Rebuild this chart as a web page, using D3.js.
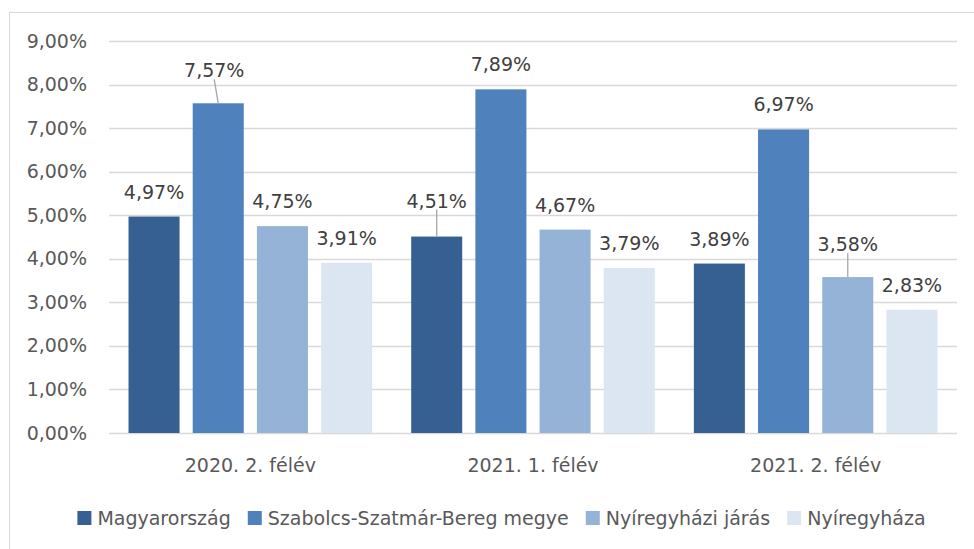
<!DOCTYPE html>
<html>
<head>
<meta charset="utf-8">
<script src="https://cdn.jsdelivr.net/npm/d3@7"></script>
<style>
  body { margin: 0; background: #fff; }
  svg { display: block; font-family: "DejaVu Sans", sans-serif; }
</style>
</head>
<body>
<script>
const width = 974
const height = 549

const categories = ['2020. 2. félév', '2021. 1. félév', '2021. 2. félév']
const seriesNames = ['Magyarország', 'Szabolcs-Szatmár-Bereg megye', 'Nyíregyházi járás', 'Nyíregyháza']
const magyarorszag = [4.97, 4.51, 3.89]
const szabolcs = [7.57, 7.89, 6.97]
const jaras = [4.75, 4.67, 3.58]
const nyiregyhaza = [3.91, 3.79, 2.83]
const yTicks = [0, 1, 2, 3, 4, 5, 6, 7, 8, 9]
const colors = ['#376092', '#4f81bd', '#95b3d7', '#dce6f2']

// labels that were dragged off their default spot (dx, dy in px)
const labelNudge = [
  [[0, 0], [-4, -8], [0, 0], [0, 0]],
  [[0, -11], [0, 0], [0, 0], [0, 0]],
  [[0, 0], [0, 0], [0, -8], [0, 0]]
]

const series = [magyarorszag, szabolcs, jaras, nyiregyhaza]
const fmt = v => v.toFixed(2).replace('.', ',') + '%'

const svg = d3.select('body').append('svg')
  .attr('width', width)
  .attr('height', height)

// chart border (only left and top visible in the crop)
svg.append('rect')
  .attr('x', 9.5).attr('y', 12.5)
  .attr('width', width + 20).attr('height', height + 20)
  .attr('fill', 'none')
  .attr('stroke', '#d9d9d9')

const x0 = d3.scaleBand()
  .domain(categories)
  .range([109, 957])

const x1 = d3.scaleBand()
  .domain(d3.range(seriesNames.length))
  .range([0, x0.bandwidth()])
  .paddingInner(0.205)
  .paddingOuter(0.304)

const y = d3.scaleLinear()
  .domain([0, 9])
  .range([433, 41])

// gridlines
svg.append('g')
  .selectAll('line')
  .data(yTicks)
  .enter().append('line')
  .attr('x1', 109)
  .attr('x2', 957)
  .attr('y1', d => Math.round(y(d)) + 0.5)
  .attr('y2', d => Math.round(y(d)) + 0.5)
  .attr('stroke', '#d9d9d9')
  .attr('stroke-width', 1.3)

// y axis labels
const yAxis = svg.append('g')
  .attr('transform', 'translate(87,0)')
  .call(d3.axisLeft(y).tickValues(yTicks).tickSize(0).tickPadding(0)
    .tickFormat(d => fmt(d)))
yAxis.select('.domain').remove()
yAxis.selectAll('text')
  .attr('font-size', 19)
  .attr('font-family', '"DejaVu Sans", sans-serif')
  .attr('fill', '#595959')

// x axis labels
const xAxis = svg.append('g')
  .attr('transform', 'translate(0,458)')
  .call(d3.axisBottom(x0).tickSize(0).tickPadding(0))
xAxis.select('.domain').remove()
xAxis.selectAll('text')
  .attr('font-size', 19)
  .attr('font-family', '"DejaVu Sans", sans-serif')
  .attr('fill', '#595959')

const flat = []
categories.forEach((c, ci) => {
  series.forEach((s, si) => {
    flat.push({ cat: c, ci, si, value: s[ci] })
  })
})

// bars
svg.append('g')
  .selectAll('rect')
  .data(flat)
  .enter().append('rect')
  .attr('x', d => x0(d.cat) + x1(d.si))
  .attr('y', d => y(d.value))
  .attr('width', x1.bandwidth())
  .attr('height', d => y(0) - y(d.value))
  .attr('fill', d => colors[d.si])

// leader lines for moved labels
svg.append('g')
  .selectAll('line')
  .data(flat.filter(d => labelNudge[d.ci][d.si][1] < -4))
  .enter().append('line')
  .attr('x1', d => x0(d.cat) + x1(d.si) + x1.bandwidth() / 2 + labelNudge[d.ci][d.si][0])
  .attr('y1', d => y(d.value) + labelNudge[d.ci][d.si][1] - 16)
  .attr('x2', d => x0(d.cat) + x1(d.si) + x1.bandwidth() / 2)
  .attr('y2', d => y(d.value))
  .attr('stroke', '#a6a6a6')
  .attr('stroke-width', 1.3)

// value labels
svg.append('g')
  .selectAll('text')
  .data(flat)
  .enter().append('text')
  .attr('x', d => x0(d.cat) + x1(d.si) + x1.bandwidth() / 2 + labelNudge[d.ci][d.si][0])
  .attr('y', d => y(d.value) - 18 + labelNudge[d.ci][d.si][1])
  .attr('text-anchor', 'middle')
  .attr('font-size', 19)
  .attr('fill', '#404040')
  .text(d => fmt(d.value))

// legend
const legend = svg.append('g')
const items = legend.selectAll('g')
  .data(seriesNames)
  .enter().append('g')
items.append('rect')
  .attr('width', 14).attr('height', 14)
  .attr('y', 511)
  .attr('fill', (d, i) => colors[i])
items.append('text')
  .attr('x', 20)
  .attr('y', 525)
  .attr('font-size', 19)
  .attr('fill', '#595959')
  .text(d => d)

let offset = 0
const itemWidths = []
items.each(function () {
  itemWidths.push(20 + this.querySelector('text').getComputedTextLength())
})
const gap = 17
const total = d3.sum(itemWidths) + gap * (itemWidths.length - 1)
const start = 501.5 - total / 2
items.attr('transform', (d, i) => {
  const t = 'translate(' + (start + offset) + ',0)'
  offset += itemWidths[i] + gap
  return t
})
</script>
</body>
</html>
